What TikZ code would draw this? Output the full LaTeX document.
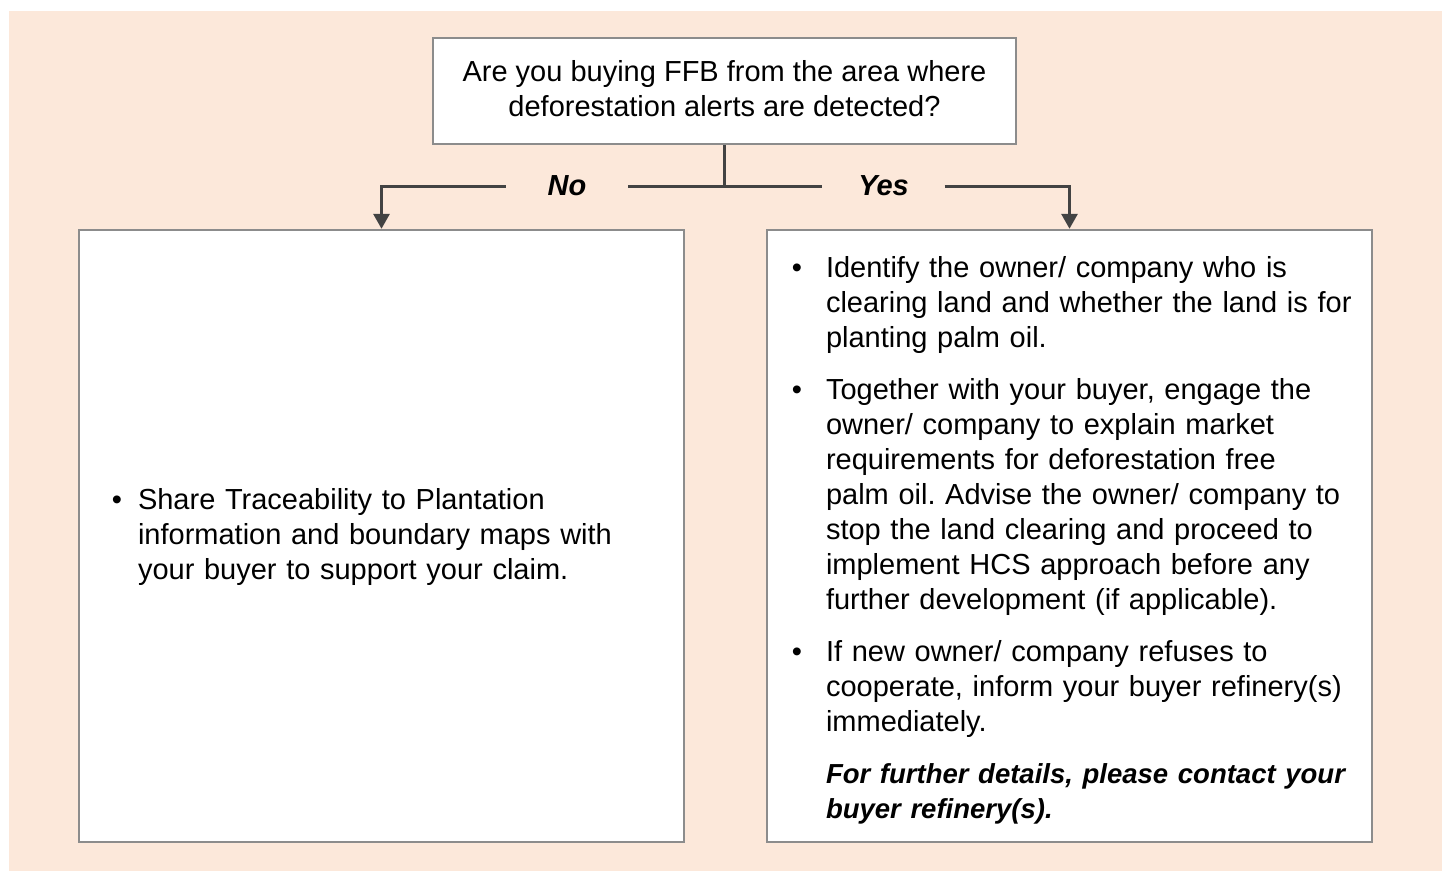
\documentclass[tikz,border=0pt]{standalone}
\usepackage{fontspec}
\setmainfont{Liberation Sans}
\usepackage{enumitem}
\usetikzlibrary{arrows.meta,positioning}
\frenchspacing

\definecolor{peach}{RGB}{252,232,218}
\definecolor{edgegray}{RGB}{140,140,140}
\definecolor{linegray}{RGB}{67,67,67}

\tikzset{
  box/.style={draw=edgegray, line width=2.4pt, fill=white, inner sep=0pt},
  bullets/.style={text width=605pt, inner sep=0pt, font=\bodysize},
  conn/.style={draw=linegray, line width=3pt},
  answer/.style={font=\bfseries\itshape, minimum width=122pt, inner sep=0pt},
}

\newcommand{\bodysize}{\fontsize{29}{35}\selectfont}

\begin{document}
\begin{tikzpicture}[x=1pt,y=-1pt]
  \useasboundingbox (0,0) rectangle (1447,871);
  \fill[peach] (9,11) rectangle (1442,871);

  % question
  \node[box, minimum width=583pt, minimum height=106pt] (question) at (724.5,91) {};
  \node[align=center, inner sep=0pt, font=\bodysize, yshift=2pt] (qtext) at (question.center)
        {Are you buying FFB from the area where\\deforestation alerts are detected?};

  % answers
  \node[answer, font=\bodysize\bfseries\itshape] (no) at (567,186) {No};
  \node[answer, font=\bodysize\bfseries\itshape] (yes) at (883.5,186) {Yes};

  % no branch
  \node[box, minimum width=605pt, minimum height=612pt] (nobox) at (381.5,536) {};
  \node[bullets, yshift=6pt] (nolist) at (nobox.center)
  {\begin{itemize}[leftmargin=59pt, labelsep=16pt, topsep=0pt, partopsep=0pt, itemsep=0pt, parsep=0pt]
    \item Share Traceability to Plantation\\information and boundary maps with\\your buyer to support your claim.
   \end{itemize}};

  % yes branch
  \node[box, minimum width=605pt, minimum height=612pt] (yesbox) at (1069.5,536) {};
  \node[bullets, yshift=2.5pt] (yeslist) at (yesbox.center)
  {\begin{itemize}[leftmargin=59pt, labelsep=24pt, topsep=0pt, partopsep=0pt, itemsep=17pt, parsep=0pt]
    \item Identify the owner/ company who is\\clearing land and whether the land is for\\planting palm oil.
    \item Together with your buyer, engage the\\owner/ company to explain market\\requirements for deforestation free\\palm oil. Advise the owner/ company to\\stop the land clearing and proceed to\\implement HCS approach before any\\further development (if applicable).
    \item If new owner/ company refuses to\\cooperate, inform your buyer refinery(s)\\immediately.
    \item[] {\fontsize{27.5}{35}\selectfont\bfseries\itshape For further details, please contact your\\buyer refinery(s).}
   \end{itemize}};

  \draw[conn] (question.south) -- (question.south |- no) coordinate (split);
  \draw[conn] (split) -- (no.east);
  \draw[conn] (split) -- (yes.west);
  \draw[conn, -{Triangle[width=16pt,length=15pt]}] (no.west) -| (nobox.north);
  \draw[conn, -{Triangle[width=16pt,length=15pt]}] (yes.east) -| (yesbox.north);
\end{tikzpicture}
\end{document}
